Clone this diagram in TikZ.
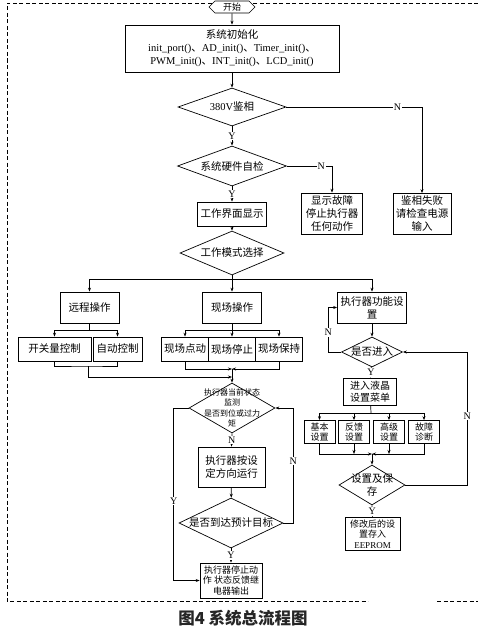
\documentclass[tikz,border=0pt]{standalone}
\usepackage{fontspec}
\setmainfont{Liberation Serif}
\newfontfamily\cjk{Noto Sans CJK SC}
\usepackage{tikz}
\usetikzlibrary{shapes.geometric, shapes.symbols, arrows.meta, calc, positioning}

\newcommand{\dunhao}{{\cjk 、}}

\tikzset{
	box/.style={draw, align=center, inner sep=1pt, font=\cjk\fontsize{10.5}{13}\selectfont},
	smallbox/.style={box, font=\cjk\fontsize{9}{10.5}\selectfont},
	choice/.style={diamond, draw, inner sep=0pt},
	ctext/.style={align=center, font=\cjk\fontsize{10.5}{13}\selectfont},
	arr/.style={-{Stealth[length=4pt,width=3pt]}},
	yn/.style={fill=white, inner sep=1pt, font=\fontsize{10}{10}\selectfont},
}

\begin{document}
\begin{tikzpicture}[x=1pt, y=-1pt, line width=0.7pt]
		\useasboundingbox (0,0) rectangle (478,629);
		% dashed frame
		\draw[line width=0.5pt, dash pattern=on 4pt off 2.5pt] (478,3) -- (7,3) -- (7,601) -- (368,601);
		\draw[line width=0.5pt, dash pattern=on 4pt off 2.5pt] (437,601) -- (478,601);

		\node[signal, signal to=east and west, draw, fill=white, minimum width=46pt, minimum height=12pt, inner sep=0pt, font=\cjk\fontsize{9}{9}\selectfont] (start) at (232,7) {开始};
		\node[box, minimum width=214pt, minimum height=47pt] (init) at (232,48.5) {系统初始化\\{\rmfamily init\_port()\dunhao AD\_init()\dunhao Timer\_init()\dunhao}\\{\rmfamily PWM\_init()\dunhao INT\_init()\dunhao LCD\_init()}};
		\node[choice, minimum width=108pt, minimum height=38pt, label={[ctext]center:{\rmfamily 380V}鉴相}] (d1) at (232,107) {};
		\node[choice, minimum width=109pt, minimum height=40pt, label={[ctext]center:系统硬件自检}] (d2) at (232,166) {};
		\node[box, minimum width=58pt, minimum height=41pt] (fail) at (422,214) {鉴相失败\\请检查电源\\输入};
		\node[box, minimum width=61pt, minimum height=41pt] (err) at (332,213.5) {显示故障\\停止执行器\\任何动作};
		\node[box, minimum width=69pt, minimum height=24pt] (ui) at (232,214) {工作界面显示};
		\node[choice, minimum width=104pt, minimum height=44pt, label={[ctext]center:工作模式选择}] (d3) at (232,253) {};

		% three branches
		\node[box, minimum width=59pt, minimum height=31pt] (remote) at (89.5,307.5) {远程操作};
		\node[box, minimum width=59pt, minimum height=31pt] (local) at (232,307.5) {现场操作};
		\node[box, minimum width=69pt, minimum height=31pt] (act) at (372,307.5) {执行器功能设\\置};
		\node[box, minimum width=73pt, minimum height=24pt] (sw) at (54.5,349) {开关量控制};
		\node[box, minimum width=49pt, minimum height=24pt] (auto) at (117.5,349) {自动控制};
		\foreach \name/\x/\txt in {jog/185/现场点动, stop/232/现场停止, hold/279/现场保持}
			\node[box, minimum width=47pt, minimum height=24pt] (\name) at (\x,349) {\txt};

		% actuator loop
		\node[choice, minimum width=86pt, minimum height=50pt, label={[ctext, font=\cjk\fontsize{8}{10.5}\selectfont]center:执行器当前状态\\监测\\是否到位或过力\\矩}] (d4) at (232,408) {};
		\node[box, minimum width=67pt, minimum height=40pt] (run) at (231.5,467) {执行器按设\\定方向运行};
		\node[choice, minimum width=104pt, minimum height=50pt, label={[ctext]center:是否到达预计目标}] (d5) at (231,523) {};
		\node[smallbox, minimum width=62pt, minimum height=35pt] (halt) at (231,580.5) {执行器停止动\\作 状态反馈继\\电器输出};

		% settings
		\node[choice, minimum width=61pt, minimum height=30pt, label={[ctext]center:是否进入}] (d6) at (372,352) {};
		\node[box, minimum width=53pt, minimum height=27pt, font=\cjk\fontsize{10}{12.5}\selectfont] (menu) at (370,391.5) {进入液晶\\设置菜单};
		\foreach \name/\x/\txt in {b1/319.5/基本\\设置, b2/354/反馈\\设置, b3/389/高级\\设置, b4/424/故障\\诊断}
			\node[smallbox, minimum width=31pt, minimum height=23pt] (\name) at (\x,432) {\txt};
		\node[choice, minimum width=66pt, minimum height=40pt, label={[ctext]center:设置及保\\存}] (d7) at (372,485) {};
		\node[smallbox, minimum width=55pt, minimum height=33pt] (save) at (372.5,534) {修改后的设\\置存入\\{\rmfamily EEPROM}};

		\node[font=\cjk\bfseries\fontsize{16.5}{16.5}\selectfont, text=black!85, inner sep=0pt] (cap) at (243,618) {图4 系统总流程图};

		% connectors
		\draw[arr] (start) -- (init);
		\draw[arr] (init) -- (d1);
		\draw[arr] (d1.east) -| node[yn, pos=0.41] {N} (fail.north);
		\draw[arr] (d1) -- node[yn] {Y} (d2);
		\draw[arr] (d2.east) -| node[yn, pos=0.38] {N} (err.north);
		\draw[arr] (d2) -- node[yn] {Y} (ui);
		\draw[arr] (ui) -- (d3);
		\coordinate (split) at (232,279);
		\draw (d3.south) -- (split);
		\draw[arr] (split) -| (remote.north);
		\draw[arr] (split) -- (local);
		\draw[arr] (split) -| (act.north);

		\coordinate (rsplit) at (89.5,330);
		\draw (remote) -- (rsplit);
		\draw[arr] (rsplit) -| (sw.north);
		\draw[arr] (rsplit) -| (auto.north);
		\coordinate (lsplit) at (232,330);
		\draw (local) -- (lsplit);
		\foreach \name in {jog,stop,hold}
			\draw[arr] (lsplit) -| (\name.north);

		\coordinate (rjoin) at (88,366);
		\coordinate (rin) at (232,377);
		\coordinate (ljoin) at (232,369);
		\draw (sw.south) |- (rjoin) -| (auto.south);
		\draw[arr] (rjoin) |- (rin);
		\draw[arr] (jog.south) |- (ljoin);
		\draw[arr] (hold.south) |- (ljoin);
		\draw[arr] (ljoin) -- (d4.north);

		\draw[arr] (d4.south) -- node[yn] {N} (run.north);
		\draw[arr] (run) -- (d5);
		\draw[arr] (d5.south) -- node[yn] {Y} (halt.north);
		\draw[arr] (d5.east) -- ++(10,0) |- node[yn, pos=0.27] {N} (d4.east);
		\draw[arr] (d4.west) -- ++(-15,0) |- node[yn, pos=0.27] {Y} (halt.west);

		\draw[arr] (act) -- (d6);
		\draw[arr] (d6.west) -- ++(-13,0) |- node[yn, pos=0.22] {N} (act.west);
		\draw[arr] (d6) -- node[yn] {Y} (menu);
		\coordinate (msplit) at (371,413);
		\draw (menu) -- (msplit);
		\foreach \name in {b1,b2,b3,b4}
			\draw[arr] (msplit) -| (\name.north);
		\coordinate (mjoin) at (372,454);
		\draw[arr] (b1.south) |- (mjoin);
		\draw[arr] (b4.south) |- (mjoin);
		\draw[arr] (b2.south) -- (b2.south |- mjoin);
		\draw[arr] (b3.south) -- (b3.south |- mjoin);
		\draw[arr] (mjoin) -- (d7);
		\draw[arr] (d7.south) -- node[yn] {Y} (save.north);
		\draw[arr] (d7.east) -- ++(62,0) |- node[yn, pos=0.26] {N} (d6.east);
\end{tikzpicture}
\end{document}
